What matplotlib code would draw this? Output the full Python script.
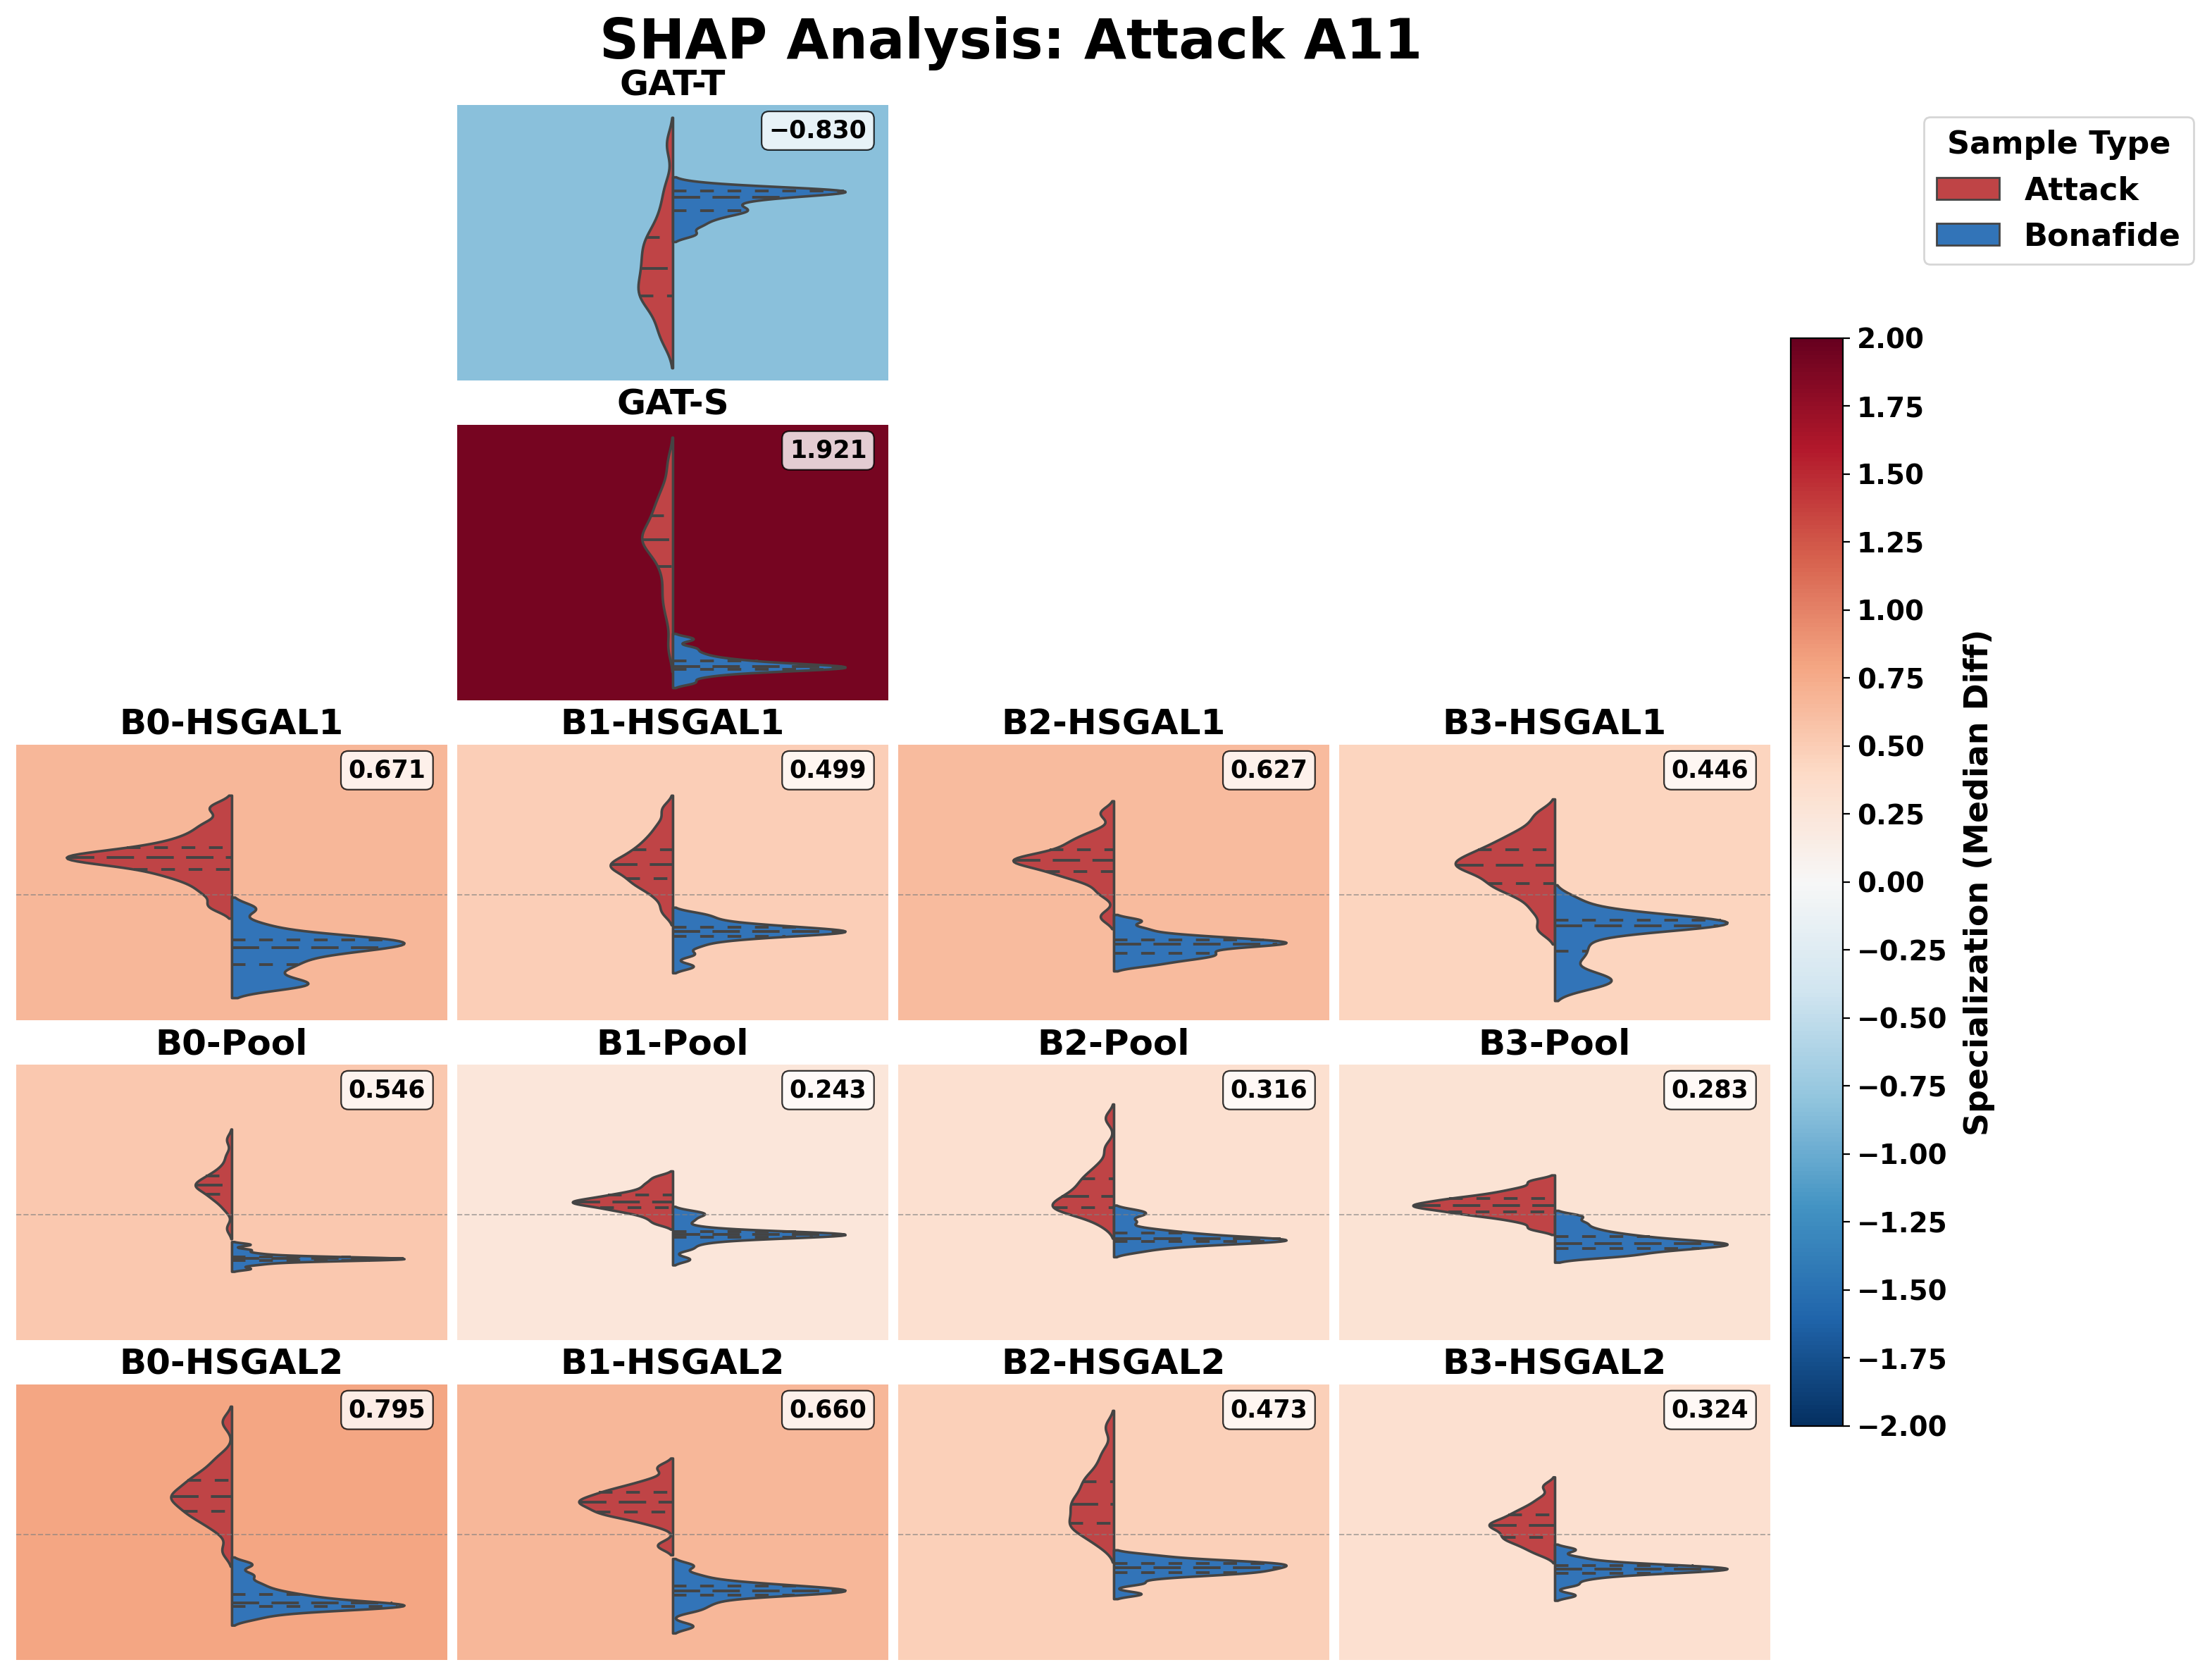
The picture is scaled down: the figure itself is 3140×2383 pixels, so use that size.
import numpy as np
import pandas as pd
import matplotlib
matplotlib.use("Agg")
import matplotlib.pyplot as plt
import seaborn as sns
from matplotlib.patches import Patch
from matplotlib.colors import Normalize
from matplotlib.cm import ScalarMappable
from matplotlib.collections import LineCollection

plt.rcParams['font.family'] = ['DejaVu Sans']
plt.rcParams['font.weight'] = 'bold'
plt.rcParams['axes.titleweight'] = 'bold'
plt.rcParams['axes.labelweight'] = 'bold'

attack_id = "A11"
sample_types = ["Attack", "Bonafide"]
type_colors = ["#bf4446", "#3274b8"]

layer_names = ["GAT-T", "GAT-S",
               "B0-HSGAL1", "B1-HSGAL1", "B2-HSGAL1", "B3-HSGAL1",
               "B0-Pool", "B1-Pool", "B2-Pool", "B3-Pool",
               "B0-HSGAL2", "B1-HSGAL2", "B2-HSGAL2", "B3-HSGAL2"]
specialization = [-0.830, 1.921,
                  0.671, 0.499, 0.627, 0.446,
                  0.546, 0.243, 0.316, 0.283,
                  0.795, 0.660, 0.473, 0.324]

# SHAP values per layer (attack / bonafide samples)
attack_gat_t = [0.55, 0.70, 0.85, 0.98, 1.05, 1.09, 1.14, 1.22, 1.30, 1.36,
                1.44, 1.52, 1.60, 1.67, 1.74, 1.82, 1.95, 2.12, 2.35, 2.85]
bonafide_gat_t = [1.80, 1.90, 1.97, 2.02, 2.06, 2.08, 2.11, 2.15, 2.19, 2.22,
                  2.24, 2.26, 2.28, 2.29, 2.30, 2.31, 2.315, 2.32, 2.33, 2.38]
attack_gat_s = [1.00, 1.45, 1.70, 1.85, 2.10, 2.25, 2.40, 2.50, 2.56, 2.60,
                2.65, 2.70, 2.76, 2.84, 2.96, 3.05, 3.15, 3.28, 3.45, 3.80]
bonafide_gat_s = [0.46, 0.55, 0.60, 0.63, 0.65, 0.66, 0.67, 0.68, 0.69, 0.70,
                  0.708, 0.72, 0.73, 0.75, 0.78, 0.80, 0.84, 0.90, 0.98, 1.12]

attack_b0_hsgal1 = [-0.08, 0.02, 0.09, 0.14, 0.17, 0.20, 0.23, 0.25, 0.265, 0.275,
                    0.28, 0.29, 0.30, 0.32, 0.35, 0.37, 0.41, 0.46, 0.53, 0.65]
bonafide_b0_hsgal1 = [-0.68, -0.67, -0.65, -0.60, -0.54, -0.51, -0.47, -0.44, -0.41, -0.40,
                      -0.385, -0.37, -0.355, -0.345, -0.335, -0.325, -0.31, -0.28, -0.22, -0.10]
attack_b1_hsgal1 = [-0.12, -0.02, 0.04, 0.08, 0.10, 0.13, 0.16, 0.19, 0.21, 0.22,
                    0.23, 0.25, 0.28, 0.31, 0.33, 0.37, 0.41, 0.46, 0.53, 0.64]
bonafide_b1_hsgal1 = [-0.53, -0.44, -0.38, -0.34, -0.32, -0.305, -0.295, -0.285, -0.28, -0.275,
                      -0.27, -0.265, -0.26, -0.25, -0.24, -0.23, -0.22, -0.20, -0.17, -0.14]
attack_b2_hsgal1 = [-0.16, 0.02, 0.10, 0.14, 0.16, 0.18, 0.21, 0.23, 0.245, 0.255,
                    0.26, 0.27, 0.285, 0.30, 0.33, 0.36, 0.39, 0.42, 0.47, 0.61]
bonafide_b2_hsgal1 = [-0.52, -0.49, -0.47, -0.455, -0.44, -0.43, -0.41, -0.395, -0.38, -0.37,
                      -0.365, -0.355, -0.35, -0.34, -0.335, -0.32, -0.31, -0.29, -0.25, -0.19]
attack_b3_hsgal1 = [-0.25, -0.12, -0.03, 0.03, 0.07, 0.09, 0.13, 0.17, 0.20, 0.215,
                    0.225, 0.25, 0.28, 0.30, 0.33, 0.36, 0.40, 0.44, 0.50, 0.60]
bonafide_b3_hsgal1 = [-0.68, -0.65, -0.62, -0.58, -0.47, -0.40, -0.33, -0.25, -0.24, -0.23,
                      -0.225, -0.22, -0.21, -0.20, -0.19, -0.18, -0.17, -0.15, -0.11, -0.03]

attack_b0_pool = [-0.10, 0.04, 0.09, 0.12, 0.14, 0.155, 0.18, 0.20, 0.21, 0.215,
                  0.225, 0.235, 0.25, 0.27, 0.285, 0.30, 0.33, 0.37, 0.44, 0.56]
bonafide_b0_pool = [-0.40, -0.37, -0.355, -0.345, -0.34, -0.336, -0.333, -0.33, -0.328, -0.327,
                    -0.325, -0.323, -0.32, -0.317, -0.313, -0.31, -0.30, -0.285, -0.26, -0.22]
attack_b1_pool = [-0.06, -0.02, 0.01, 0.03, 0.043, 0.055, 0.07, 0.08, 0.09, 0.095,
                  0.10, 0.11, 0.12, 0.135, 0.145, 0.16, 0.18, 0.21, 0.24, 0.28]
bonafide_b1_pool = [-0.33, -0.25, -0.21, -0.185, -0.17, -0.163, -0.157, -0.153, -0.149, -0.146,
                    -0.144, -0.141, -0.138, -0.134, -0.128, -0.115, -0.09, -0.04, 0.00, 0.02]
attack_b2_pool = [-0.07, -0.01, 0.02, 0.04, 0.047, 0.055, 0.07, 0.09, 0.11, 0.13,
                  0.145, 0.17, 0.20, 0.23, 0.26, 0.29, 0.33, 0.39, 0.50, 0.72]
bonafide_b2_pool = [-0.27, -0.24, -0.225, -0.215, -0.205, -0.198, -0.193, -0.19, -0.186, -0.181,
                    -0.176, -0.17, -0.16, -0.15, -0.135, -0.125, -0.10, -0.05, 0.00, 0.03]
attack_b3_pool = [-0.10, -0.05, -0.02, 0.00, 0.012, 0.025, 0.04, 0.05, 0.06, 0.068,
                  0.076, 0.085, 0.095, 0.11, 0.12, 0.13, 0.15, 0.17, 0.20, 0.25]
bonafide_b3_pool = [-0.31, -0.30, -0.28, -0.265, -0.255, -0.245, -0.235, -0.228, -0.22, -0.215,
                    -0.207, -0.20, -0.19, -0.18, -0.165, -0.15, -0.13, -0.10, -0.06, -0.01]

attack_b0_hsgal2 = [-0.12, 0.03, 0.09, 0.13, 0.16, 0.18, 0.21, 0.24, 0.265, 0.28,
                    0.29, 0.31, 0.34, 0.37, 0.40, 0.42, 0.46, 0.51, 0.58, 0.84]
bonafide_b0_hsgal2 = [-0.62, -0.58, -0.56, -0.548, -0.54, -0.535, -0.53, -0.525, -0.52, -0.515,
                      -0.505, -0.495, -0.48, -0.465, -0.45, -0.43, -0.40, -0.36, -0.30, -0.22]
attack_b1_hsgal2 = [-0.08, 0.08, 0.12, 0.145, 0.16, 0.172, 0.19, 0.21, 0.225, 0.238,
                    0.248, 0.26, 0.275, 0.29, 0.31, 0.325, 0.345, 0.37, 0.41, 0.50]
bonafide_b1_hsgal2 = [-0.68, -0.56, -0.52, -0.49, -0.46, -0.447, -0.44, -0.43, -0.425, -0.42,
                      -0.414, -0.41, -0.40, -0.39, -0.385, -0.375, -0.36, -0.34, -0.30, -0.23]
attack_b2_hsgal2 = [-0.08, -0.02, 0.02, 0.05, 0.075, 0.09, 0.12, 0.16, 0.19, 0.215,
                    0.24, 0.27, 0.30, 0.34, 0.39, 0.41, 0.46, 0.53, 0.62, 0.80]
bonafide_b2_hsgal2 = [-0.44, -0.36, -0.32, -0.30, -0.29, -0.282, -0.275, -0.265, -0.257, -0.25,
                      -0.241, -0.235, -0.228, -0.22, -0.213, -0.207, -0.20, -0.19, -0.175, -0.15]
attack_b3_hsgal2 = [-0.14, -0.10, -0.07, -0.045, -0.025, -0.015, 0.005, 0.03, 0.05, 0.063,
                    0.073, 0.085, 0.10, 0.12, 0.145, 0.16, 0.19, 0.22, 0.27, 0.36]
bonafide_b3_hsgal2 = [-0.45, -0.37, -0.33, -0.305, -0.29, -0.283, -0.275, -0.268, -0.262, -0.258,
                      -0.254, -0.249, -0.244, -0.238, -0.232, -0.226, -0.215, -0.20, -0.17, -0.11]

shap_values = {
    "GAT-T": (attack_gat_t, bonafide_gat_t),
    "GAT-S": (attack_gat_s, bonafide_gat_s),
    "B0-HSGAL1": (attack_b0_hsgal1, bonafide_b0_hsgal1),
    "B1-HSGAL1": (attack_b1_hsgal1, bonafide_b1_hsgal1),
    "B2-HSGAL1": (attack_b2_hsgal1, bonafide_b2_hsgal1),
    "B3-HSGAL1": (attack_b3_hsgal1, bonafide_b3_hsgal1),
    "B0-Pool": (attack_b0_pool, bonafide_b0_pool),
    "B1-Pool": (attack_b1_pool, bonafide_b1_pool),
    "B2-Pool": (attack_b2_pool, bonafide_b2_pool),
    "B3-Pool": (attack_b3_pool, bonafide_b3_pool),
    "B0-HSGAL2": (attack_b0_hsgal2, bonafide_b0_hsgal2),
    "B1-HSGAL2": (attack_b1_hsgal2, bonafide_b1_hsgal2),
    "B2-HSGAL2": (attack_b2_hsgal2, bonafide_b2_hsgal2),
    "B3-HSGAL2": (attack_b3_hsgal2, bonafide_b3_hsgal2),
}

# grid slot of each layer: GAT layers on top, then one column per block
grid_slot = {"GAT-T": (0, 1), "GAT-S": (1, 1)}
for b in range(4):
    grid_slot[f"B{b}-HSGAL1"] = (2, b)
    grid_slot[f"B{b}-Pool"] = (3, b)
    grid_slot[f"B{b}-HSGAL2"] = (4, b)

cmap = plt.get_cmap("RdBu_r")
norm = Normalize(vmin=-2, vmax=2)

quart_style = (0, (5.0, 5.0))
median_style = (0, (10.0, 4.5))
edge_col = "#444444"

fig = plt.figure(figsize=(15.7, 11.915), dpi=200)
gs = fig.add_gridspec(5, 4, left=0.0073, right=0.8003, top=0.9375, bottom=0.0115,
                      wspace=0.023, hspace=0.161)

for name, spec in zip(layer_names, specialization):
    r, c = grid_slot[name]
    ax = fig.add_subplot(gs[r, c])
    att, bona = shap_values[name]
    df = pd.DataFrame({
        "value": att + bona,
        "type": ["Attack"] * len(att) + ["Bonafide"] * len(bona),
        "layer": name,
    })
    sns.violinplot(data=df, x="layer", y="value", hue="type", hue_order=sample_types,
                   palette=dict(zip(sample_types, type_colors)), split=True,
                   inner="quart", bw_adjust=0.5, common_norm=True,
                   linewidth=1.3, linecolor=edge_col,
                   saturation=1, legend=False, ax=ax)
    # thicker dashed quartile lines (median gets the long dash)
    for i, ln in enumerate(list(ax.lines)):
        ln.set_linewidth(1.4)
        ln.set_color(edge_col)
        ln.set_linestyle(median_style if i % 3 == 1 else quart_style)
    for coll in ax.collections:
        if isinstance(coll, LineCollection):
            n = len(coll.get_segments())
            coll.set_linewidth(1.4)
            coll.set_color(edge_col)
            coll.set_linestyles([quart_style, median_style, quart_style] * max(n // 3, 1))
    if name.startswith("B"):
        ax.axhline(0, color="gray", linestyle="--", linewidth=0.7, alpha=0.6)
        ax.set_ylim(-0.93, 1.12)
    ax.set_facecolor(cmap(norm(spec)))
    for s in ax.spines.values():
        s.set_visible(False)
    ax.set_xticks([])
    ax.set_yticks([])
    ax.set_xlabel("")
    ax.set_ylabel("")
    ax.set_title(name, fontsize=18, fontweight="bold", pad=5)
    ax.text(0.95, 0.95, f"{spec:.3f}".replace("-", "\u2212"), transform=ax.transAxes,
            ha="right", va="top", fontsize=12.5, fontweight="bold",
            bbox=dict(boxstyle="round,pad=0.3", facecolor="white", alpha=0.8,
                      edgecolor="black", linewidth=0.8))

cax = fig.add_axes([0.8096, 0.1507, 0.0236, 0.6479])
cb = fig.colorbar(ScalarMappable(norm=norm, cmap=cmap), cax=cax)
cb.set_ticks(np.arange(-2, 2.01, 0.25))
cb.ax.tick_params(labelsize=14)
cb.set_label("Specialization (Median Diff)", fontsize=16.5, fontweight="bold", labelpad=8)

handles = [Patch(facecolor=col, edgecolor=edge_col, label=lab)
           for lab, col in zip(sample_types, type_colors)]
fig.legend(handles=handles, title="Sample Type", loc="upper right",
           bbox_to_anchor=(0.9917, 0.9303), borderaxespad=0,
           prop={"size": 16, "weight": "bold"},
           title_fontproperties={"size": 16, "weight": "bold"})

fig.suptitle(f"SHAP Analysis: Attack {attack_id}", fontsize=28, fontweight="bold",
             x=0.457, y=0.9903, va="top")

fig.savefig("out.png", dpi=200)
